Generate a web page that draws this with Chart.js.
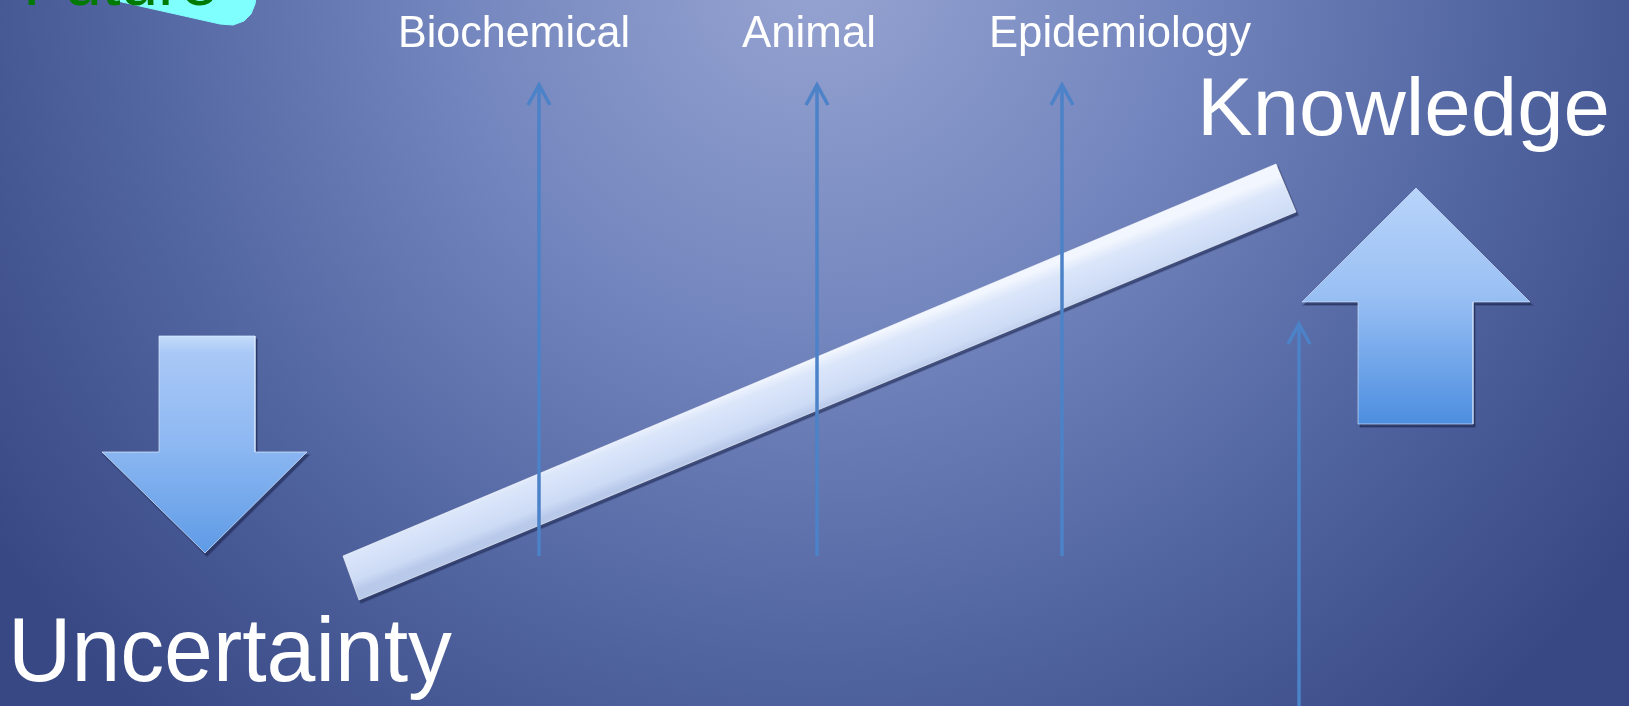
<!DOCTYPE html>
<html>
<head>
<meta charset="utf-8">
<script src="https://cdn.jsdelivr.net/npm/chart.js@4.4.1/dist/chart.umd.min.js"></script>
<style>
  html, body { margin: 0; padding: 0; overflow: hidden; background: #5064a0; }
  #wrap { width: 1629px; height: 706px; }
</style>
</head>
<body>
<div id="wrap"><canvas id="myChart" width="1629" height="706"></canvas></div>
<script>
// slide shapes, in picture units (x to the right, y downwards)
const futureTagX = [100, 113, 220, 233, 244, 251, 255, 256];
const futureTagY = [-3, 0, 24, 25, 21, 14, 4, -3];

const barX = [343, 1276, 1296, 359];
const barY = [556, 164, 212, 600];

const downArrowX = [159, 255, 255, 307, 205, 102, 159];
const downArrowY = [336, 336, 452, 452, 553, 452, 452];

const upArrowX = [1358, 1358, 1302, 1416, 1530, 1473, 1473];
const upArrowY = [424, 302, 302, 188, 302, 302, 424];

// thin arrows under the three kinds of study, plus the one at the right
const studyArrowX = [539, 817, 1062, 1299];
const studyArrowTop = [85, 85, 85, 324];
const studyArrowBottom = [556, 556, 556, 720];

// texts
const studyLabels = ['Biochemical', 'Animal', 'Epidemiology'];
const studyLabelLeft = [398, 742, 989];
const studyLabelRight = [630, 876, 1251];
const studyLabelBase = [47, 47, 47];

const titleLabels = ['Knowledge', 'Uncertainty', 'Future'];
const titleLeft = [1197, 8, 23];
const titleRight = [1610, 452, 218];
const titleBase = [135, 681, 5];

// helpers
const toPoints = (xs, ys) => xs.map((x, i) => ({ x: x, y: ys[i] }));
const closed = (pts) => pts.concat([pts[0]]);
const shifted = (pts, dx, dy) => pts.map(p => ({ x: p.x + dx, y: p.y + dy }));

// vertical gradient between the top and bottom of a shape
const verticalFill = (ys, stops) => (context) => {
    const chart = context.chart;
    const { ctx, chartArea, scales } = chart;
    if (!chartArea) {
        return null;
    }
    const y0 = scales.y.getPixelForValue(Math.min(...ys));
    const y1 = scales.y.getPixelForValue(Math.max(...ys));
    const g = ctx.createLinearGradient(0, y0, 0, y1);
    stops.forEach(s => g.addColorStop(s[0], s[1]));
    return g;
};

// gradient across the slanted bar
const barFill = (context) => {
    const chart = context.chart;
    const { ctx, chartArea, scales } = chart;
    if (!chartArea) {
        return null;
    }
    const tx = (barX[0] + barX[1]) / 2, ty = (barY[0] + barY[1]) / 2;
    const bx = (barX[2] + barX[3]) / 2, by = (barY[2] + barY[3]) / 2;
    const g = ctx.createLinearGradient(
        scales.x.getPixelForValue(tx), scales.y.getPixelForValue(ty),
        scales.x.getPixelForValue(bx), scales.y.getPixelForValue(by));
    g.addColorStop(0, '#f2f6fe');
    g.addColorStop(0.25, '#dbe6fa');
    g.addColorStop(0.8, '#cddbf5');
    g.addColorStop(1, '#b9c9ea');
    return g;
};

const polygon = (pts, fill, border, order, width) => ({
    data: closed(pts),
    showLine: true,
    fill: 'shape',
    backgroundColor: fill,
    borderColor: border,
    borderWidth: width,
    pointRadius: 0,
    tension: 0,
    borderJoinStyle: 'miter',
    order: order
});

const futurePts = toPoints(futureTagX, futureTagY);
const barPts = toPoints(barX, barY);
const downPts = toPoints(downArrowX, downArrowY);
const upPts = toPoints(upArrowX, upArrowY);

let datasets = [];

// cyan tag behind "Future"
datasets.push(polygon(futurePts, '#80ffff', '#80ffff', 90, 1));

// slanted bar with its dark shadow
datasets.push(polygon(shifted(barPts, 2, 3), 'rgba(30,40,80,0.55)', 'rgba(30,40,80,0.25)', 81, 2));
datasets.push(polygon(barPts, barFill, 'rgba(255,255,255,0.6)', 80, 1));

// thin arrows drawn over the bar
studyArrowX.forEach((x, i) => {
    datasets.push({
        data: [{ x: x, y: studyArrowBottom[i] }, { x: x, y: studyArrowTop[i] + 1 }],
        showLine: true,
        borderColor: '#4b82c8',
        borderWidth: 3.5,
        pointRadius: 0,
        order: 60
    });
    datasets.push({
        data: [{ x: x - 11, y: studyArrowTop[i] + 20 }, { x: x, y: studyArrowTop[i] }, { x: x + 11, y: studyArrowTop[i] + 20 }],
        showLine: true,
        borderColor: '#4b82c8',
        borderWidth: 3.5,
        borderCapStyle: 'butt',
        borderJoinStyle: 'miter',
        pointRadius: 0,
        order: 60
    });
});

// big arrows
datasets.push(polygon(shifted(downPts, 2, 3), 'rgba(25,35,75,0.55)', 'rgba(25,35,75,0.25)', 41, 2));
datasets.push(polygon(downPts, verticalFill(downArrowY, [[0, '#c4dcfb'], [0.08, '#a9c8f6'], [0.5, '#8db8f2'], [1, '#5f9be6']]), 'rgba(220,235,255,0.7)', 40, 1));
datasets.push(polygon(shifted(upPts, 2, 3), 'rgba(25,35,75,0.55)', 'rgba(25,35,75,0.25)', 31, 2));
datasets.push(polygon(upPts, verticalFill(upArrowY, [[0, '#b8d4fa'], [0.45, '#9ac0f4'], [1, '#4d8ee0']]), 'rgba(220,235,255,0.6)', 30, 1));

// slide background
const backgroundPlugin = {
    id: 'slideBackground',
    beforeDraw: (chart) => {
        const { ctx, width, height } = chart;
        const cx = width / 2, cy = -30;
        const g = ctx.createRadialGradient(cx, cy, 0, cx, cy, 1000);
        g.addColorStop(0, '#96a4d1');
        g.addColorStop(0.35, '#7587bf');
        g.addColorStop(0.7, '#5064a0');
        g.addColorStop(1, '#384884');
        ctx.save();
        ctx.fillStyle = g;
        ctx.fillRect(0, 0, width, height);
        ctx.restore();
    }
};

// texts fitted between their left and right edges
const drawFitted = (chart, text, left, right, base, size, color) => {
    const { ctx, scales } = chart;
    const x0 = scales.x.getPixelForValue(left);
    const x1 = scales.x.getPixelForValue(right);
    const y = scales.y.getPixelForValue(base);
    ctx.save();
    ctx.font = size + 'px "Liberation Sans", Arial, sans-serif';
    ctx.fillStyle = color;
    ctx.textBaseline = 'alphabetic';
    const w = ctx.measureText(text).width;
    ctx.translate(x0, y);
    ctx.scale((x1 - x0) / w, 1);
    ctx.fillText(text, 0, 0);
    ctx.restore();
};

const textPlugin = {
    id: 'slideTexts',
    afterDatasetsDraw: (chart) => {
        studyLabels.forEach((t, i) => {
            drawFitted(chart, t, studyLabelLeft[i], studyLabelRight[i], studyLabelBase[i], 44, '#ffffff');
        });
        drawFitted(chart, titleLabels[0], titleLeft[0], titleRight[0], titleBase[0], 82, '#ffffff');
        drawFitted(chart, titleLabels[1], titleLeft[1], titleRight[1], titleBase[1], 90, '#ffffff');
        drawFitted(chart, titleLabels[2], titleLeft[2], titleRight[2], titleBase[2], 68, '#007a00');
    }
};

const ctx = document.getElementById('myChart');

new Chart(ctx, {
    type: 'scatter',
    data: { datasets: datasets },
    options: {
        responsive: false,
        animation: false,
        devicePixelRatio: 1,
        events: [],
        layout: { padding: 0 },
        scales: {
            x: { type: 'linear', min: 0, max: 1629, display: false },
            y: { type: 'linear', min: 0, max: 706, reverse: true, display: false }
        },
        plugins: {
            legend: { display: false },
            tooltip: { enabled: false }
        }
    },
    plugins: [backgroundPlugin, textPlugin]
});
</script>
</body>
</html>
